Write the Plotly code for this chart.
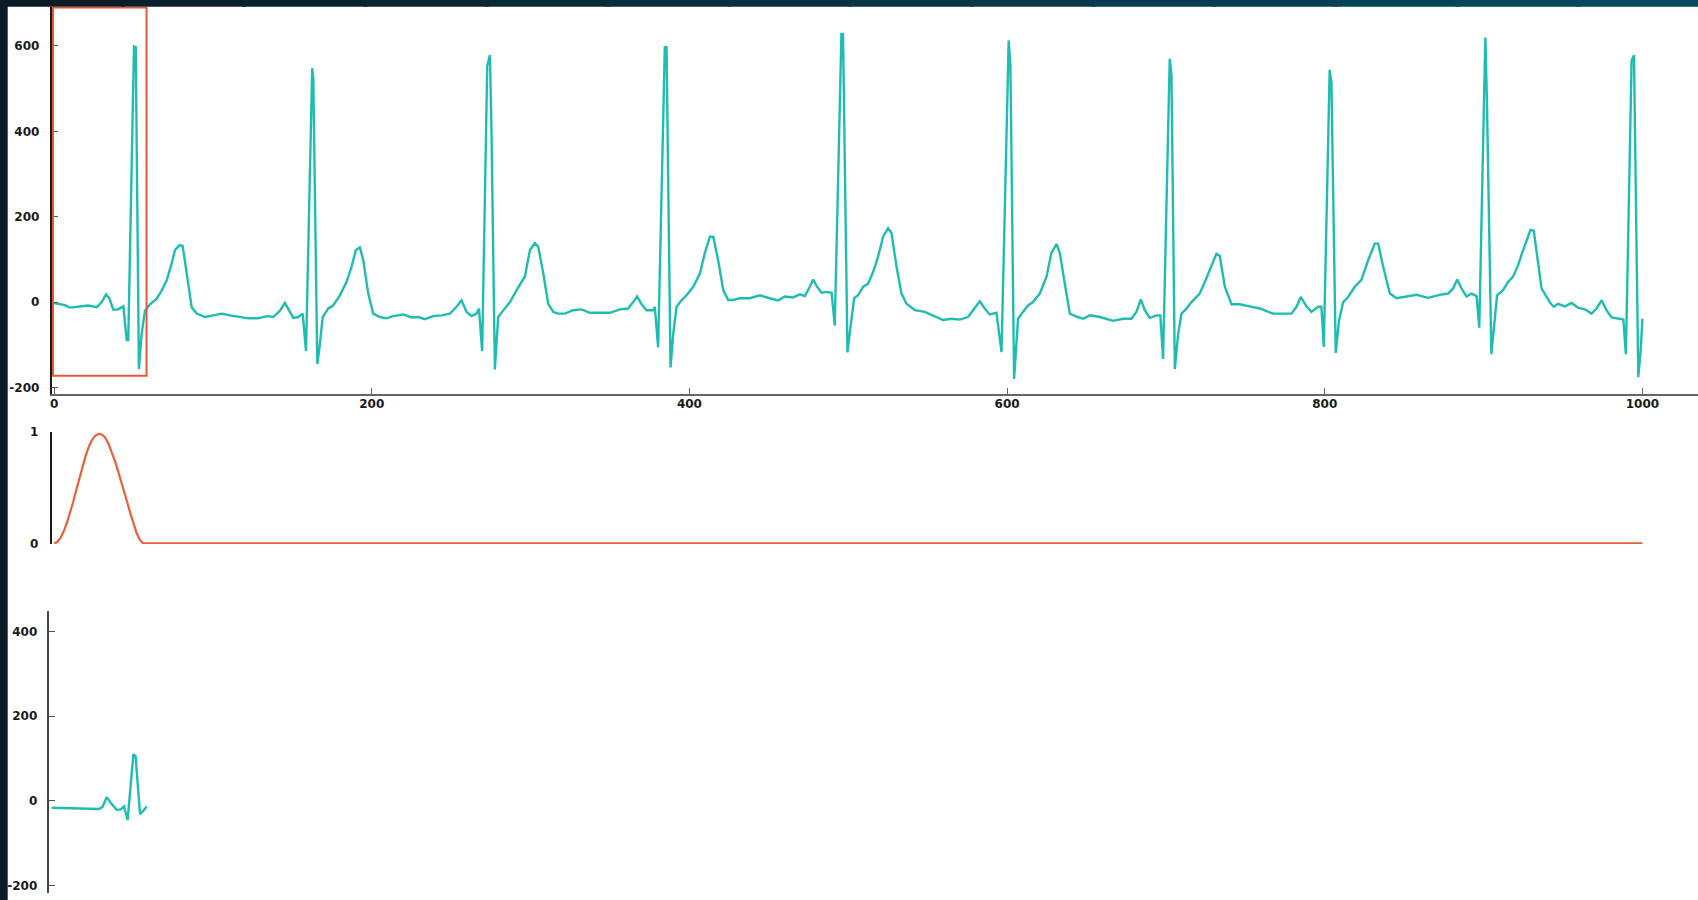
import plotly.graph_objects as go

# ---------------- data ----------------
ecg_x = [0, 6.9, 10, 16.3, 21.5, 26.8, 30, 32.7, 34.8, 37.3, 40.4, 43.6, 45.7, 46.7, 50.3, 51.4, 53.4, 55.1, 57.2, 60.4,
         64.6, 67.7, 70.9, 74, 76.1, 78.8, 80.9, 83.5, 86.6, 89.8, 95, 100.2, 105.5, 110.7, 117, 122.3, 128.5, 133.8, 138, 142.2,
         145.3, 147.4, 150.6, 153.7, 156.5, 158.6, 162.5, 163.2, 165.7, 166.9, 169.1, 172.6, 175.7, 180, 184.2, 187.3, 190, 192.5,
         194.6, 197.8, 200.9, 205.1, 209.3, 213.5, 219.8, 225.1, 229.3, 233.5, 238.7, 244, 249.2, 253.4, 256.5, 259.7, 262.9, 266,
         267.5, 269.5, 272.7, 274.4, 275.4, 277.5, 279.6, 282.7, 287, 291.2,
         296.4, 299.6, 302.7, 304.8, 308, 311.1, 314.3, 317.4, 321.6, 326.8, 332.1, 337.3, 343.6, 349.9, 356.2, 361.4, 364.6, 367.1,
         369.9, 373, 377.2, 378.2, 380.3, 384.5, 385.6, 388.1, 389.8, 391.9, 395, 398.2, 402.4, 406.6, 409.7, 412.9, 415, 418.1,
         421.3, 424.4, 427.6, 431.8, 438, 444.4,
         450.6, 455.9, 460.1, 465.3, 469.5, 472.7, 475.8, 477.9, 480.4, 483.2, 486.4, 489.5, 491.5, 495.7, 496.7, 499.5, 501.4,
         503.7, 506.2, 509.4, 512.5, 515.7, 518.8, 522, 525.1, 527.2, 530.4, 533.5, 536.7, 541.9, 548.2, 553.4, 559.7, 565, 570.2,
         575.4, 578.6, 582.8, 585.9, 589.1, 593.3,
         596.5, 601, 602.1, 604.4, 606.9, 610, 613.2, 616.3, 620.6, 624.8, 627.9, 631.1, 633.2, 636.3, 639.5, 643.7, 647.9, 652.1,
         658.4, 666.7, 673, 678.3, 681.4, 684.2, 686.7, 689.8, 694, 696.5, 698.2, 702.4, 703.5, 705.6, 707.7, 709.8, 713, 716.1,
         721.3, 724.5, 728.7, 731.8, 733.9, 737.1, 741.3, 746.5,
         752.8, 759.1, 767.4, 773.7, 779, 782.2, 784.9, 788.5, 791.6, 795.8, 797.9, 799.4, 803.1, 804.2, 806.9, 809, 811.6, 814.7,
         818.9, 823.1, 827.3, 831.5, 833.6, 836.8, 841, 845.2, 851.5, 857.8, 865.1, 872.4, 877.7, 880.8, 883.4, 886.1, 889.3,
         892.4, 895.6, 897.3,
         901.1, 902.1, 904.9, 906.4, 908.5, 912.2, 915.4, 918.5, 921.7, 923.8, 927, 929.5, 931.6, 933.7, 936.5, 939.6, 942.2,
         944.2, 946.9, 951.2, 955.4, 959.5, 963.8, 968, 971.1, 974.3, 977.4, 980.6, 984.8, 988, 989.6, 993.2, 994.7, 995.9,
         997.4, 998.9, 1000]
ecg_y = [-2, -7, -13, -10, -8, -12, 0, 18, 9, -18, -17, -10, -89, -89, 599, 597, -157, -75, -20, -5,
         8, 27, 51, 90, 122, 133, 132, 67, -12, -27, -35, -31, -27, -31, -35, -38, -38, -33, -35, -20,
         -2, -15, -37, -35, -27, -115, 548, 523, -145, -113, -35, -15, -8, 16, 48, 83, 122, 128,
         99, 20, -27, -35, -38, -33, -29, -36, -35, -40, -33, -31, -27, -11, 4, -23, -33, -27,
         -15, -115, 553, 579, 397, -158, -35, -20, 0, 28,
         60, 122, 138, 130, 67, -4, -23, -27, -27, -19, -17, -25, -25, -25, -17, -15, 0, 13,
         -5, -19, -19, -11, -106, 597, 597, -153, -75, -11, 4, 16, 36, 67, 115, 153, 153, 98,
         28, 5, 5, 9, 9, 16,
         9, 4, 13, 11, 18, 14, 36, 53, 36, 22, 24, 22, -55, 628, 628, -118, -59,
         9, 16, 36, 43, 71, 107, 154, 173, 162, 83, 20, -4, -19, -23, -31, -42, -39, -41,
         -35, -19, 2, -15, -29, -25,
         -117, 613, 554, -180, -39, -23, -8, 0, 20, 59, 115, 136, 115, 44, -27, -34, -39, -31,
         -35, -44, -39, -39, -23, 6, -19, -37, -31, -31, -133, 570, 531, -157, -75, -27, -15, 0,
         20, 47, 86, 113, 108, 36, -5, -5,
         -10, -15, -27, -27, -27, -11, 12, -10, -23, -11, -11, -105, 544, 515, -119, -43, 0, 12,
         36, 52, 98, 137, 137, 83, 20, 9, 13, 17, 10, 17, 20, 32, 53, 32, 13,
         20, 14, -60,
         620, 475, -122, -67, 16, 28, 47, 59, 86, 110, 145, 169, 167, 106, 32, 13, -3,
         -11, -4, -10, -2, -13, -17, -27, -15, 4, -19, -36, -39, -41, -122, 566, 578, 240,
         -176, -114, -39]

win_x = [0, 2, 4, 6, 8, 10, 12, 14, 16, 18, 20, 22, 24, 26, 28, 30, 32, 34, 36, 38, 40, 42, 44, 46, 48, 50, 52, 54, 56, 1000]
win_y = [0, 0.012, 0.048, 0.105, 0.18, 0.27, 0.37, 0.48, 0.59, 0.69, 0.79, 0.87, 0.93, 0.965, 0.98, 0.975, 0.95, 0.9,
         0.83, 0.75, 0.66, 0.57, 0.47, 0.37, 0.27, 0.17, 0.09, 0.03, 0.0, 0.0]

wnd_x = [-1.5, 28.3, 30.5, 33.1, 36.2, 39.4, 41.9, 44, 46.3, 49.9, 51.3, 54.1, 56.2, 58.3]
wnd_y = [-16, -19, -14, 9, -7, -21, -20, -13, -45, 110, 106, -31, -23, -13]

x_ticks = [0, 200, 400, 600, 800, 1000]
y1_ticks = [-200, 0, 200, 400, 600]
y2_ticks = [0, 1]
y3_ticks = [-200, 0, 200, 400]

TEAL = "#1fbdb1"
ORANGE = "#e9603a"
W, H = 1698, 900

fig = go.Figure()
fig.add_trace(go.Scatter(x=ecg_x, y=ecg_y, mode="lines", line=dict(color=TEAL, width=2.4),
                         xaxis="x", yaxis="y", showlegend=False))
fig.add_trace(go.Scatter(x=win_x, y=win_y, mode="lines", line=dict(color=ORANGE, width=2.2),
                         xaxis="x2", yaxis="y2", showlegend=False))
fig.add_trace(go.Scatter(x=wnd_x, y=wnd_y, mode="lines", line=dict(color=TEAL, width=2.4),
                         xaxis="x3", yaxis="y3", showlegend=False))

tickfont = dict(family="DejaVu Sans, Verdana, sans-serif", size=12, color="#1a1a1a", weight="bold")

def yax(dom, rng, vals, anchor, lc="#2a2a2a", standoff=6):
    return dict(domain=dom, range=rng, tickvals=vals, ticktext=[str(v) for v in vals], anchor=anchor,
                showline=True, linecolor=lc, linewidth=2, ticks="inside", ticklen=6, tickwidth=1,
                tickcolor="#555", showgrid=False, zeroline=False, tickfont=tickfont, fixedrange=True,
                ticklabelstandoff=standoff, automargin=False)

fig.update_layout(
    template="none",
    width=W, height=H, autosize=False,
    margin=dict(l=0, r=0, t=0, b=0, pad=0, autoexpand=False),
    paper_bgcolor="white", plot_bgcolor="rgba(0,0,0,0)",
    xaxis=dict(domain=[51.8 / W, 1], range=[-1.45, 1035], anchor="y", tickvals=x_ticks,
               ticktext=[str(v) for v in x_ticks], showline=True, linecolor="#666", linewidth=2,
               ticks="inside", ticklen=6, tickcolor="#666", showgrid=False, zeroline=False, tickfont=tickfont,
               ticklabelstandoff=-3, automargin=False),
    yaxis=yax([1 - 394.3 / H, 1 - 6.7 / H], [-216, 692], y1_ticks, "x", "#1a1a1a", 8),
    xaxis2=dict(domain=[51.8 / W, 1], range=[-1.45, 1035], anchor="y2", visible=False, automargin=False),
    yaxis2=yax([1 - 544.0 / H, 1 - 431.7 / H], [-0.006, 1.0], y2_ticks, "x2", "#1a1a1a", 9),
    xaxis3=dict(domain=[48.7 / W, 1], range=[-3.4, 1035], anchor="y3", visible=False, automargin=False),
    yaxis3=yax([1 - 893.3 / H, 1 - 610.7 / H], [-218, 449], y3_ticks, "x3", "#444", 7),
)

shapes = []
shapes.append(dict(type="rect", xref="x", yref="y", x0=-0.7, x1=58.2, y0=-172.7, y1=690,
                   line=dict(color="#e8563a", width=2), fillcolor="rgba(0,0,0,0)"))
shapes.append(dict(type="rect", xref="paper", yref="paper", x0=0, x1=7.7 / W, y0=0, y1=1,
                   line=dict(width=0), fillcolor="#0b1c26", layer="above"))
n = 14
c0 = (10, 27, 37)
c1 = (7, 74, 96)
for i in range(n):
    t = i / (n - 1)
    c = tuple(int(round(c0[k] + (c1[k] - c0[k]) * t)) for k in range(3))
    shapes.append(dict(type="rect", xref="paper", yref="paper", x0=i / n, x1=(i + 1) / n + 0.002,
                       y0=1 - 6.7 / H, y1=1, line=dict(width=0),
                       fillcolor="rgb(%d,%d,%d)" % c, layer="above"))
fig.update_layout(shapes=shapes)

post = (
    "document.documentElement.style.margin='0';"
    "document.body.style.margin='0';document.body.style.padding='0';"
    "document.body.style.overflow='hidden';document.body.style.background='white';"
    "var gd=document.getElementsByClassName('plotly-graph-div')[0];"
    "gd.style.width='1698px';gd.style.height='900px';"
    "Plotly.relayout(gd,{width:1698,height:900,autosize:false});"
)
fig.write_html("out.html", config={"displayModeBar": False, "responsive": False}, post_script=post)
